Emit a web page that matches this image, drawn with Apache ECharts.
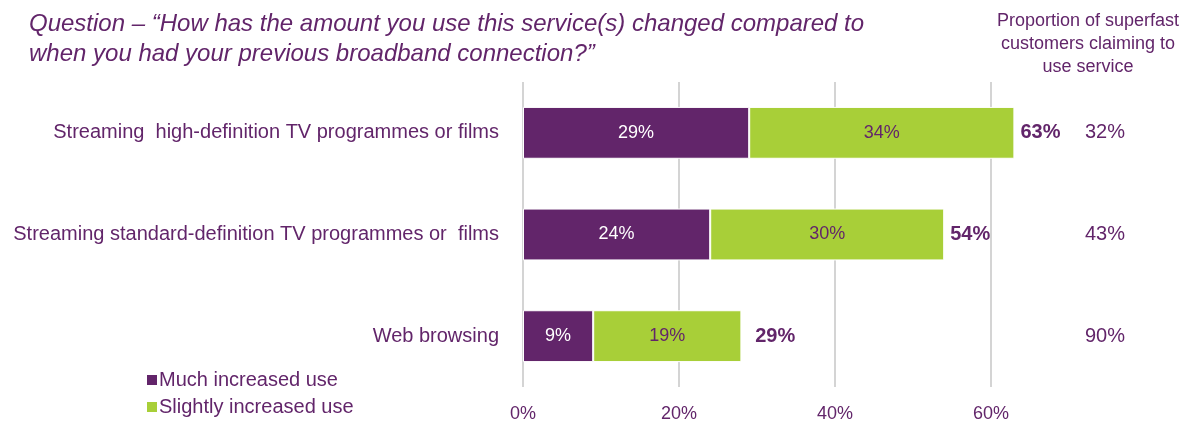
<!DOCTYPE html>
<html>
<head>
<meta charset="utf-8">
<script src="https://cdn.jsdelivr.net/npm/echarts@6/dist/echarts.min.js"></script>
<style>
  html, body { margin: 0; padding: 0; background: #fff; }
  #chart { width: 1190px; height: 423px; }
</style>
</head>
<body>
<div id="chart"></div>
<script>
// Survey services, top to bottom
const services = [
  'Streaming  high-definition TV programmes or films',
  'Streaming standard-definition TV programmes or  films',
  'Web browsing'
];
const muchIncreased = [29, 24, 9];
const slightlyIncreased = [34, 30, 19];
const totalIncreased = [63, 54, 29];
const claimingToUse = ['32%', '43%', '90%'];
const xTicks = [0, 20, 40, 60];

const PURPLE = '#62256a';
const GREEN = '#a8cf38';
const FONT = '"Liberation Sans", Arial, sans-serif';

const chart = echarts.init(document.getElementById('chart'));

chart.setOption({
  backgroundColor: '#fff',
  animation: false,
  textStyle: { fontFamily: FONT },
  title: {
    text: 'Question \u2013 \u201cHow has the amount you use this service(s) changed compared to\nwhen you had your previous broadband connection?\u201d',
    left: 24,
    top: 4,
    textStyle: {
      fontFamily: FONT,
      fontStyle: 'italic',
      fontWeight: 'normal',
      fontSize: 24,
      lineHeight: 30,
      color: PURPLE
    }
  },
  graphic: [{
    type: 'text',
    x: 1088,
    y: 10,
    style: {
      text: 'Proportion of superfast\ncustomers claiming to\nuse service',
      align: 'center',
      fontFamily: FONT,
      fontSize: 18,
      lineHeight: 23,
      fill: PURPLE
    }
  }],
  legend: {
    orient: 'vertical',
    left: 140,
    top: 365,
    itemWidth: 12,
    itemHeight: 12,
    itemGap: 7,
    icon: 'rect',
    textStyle: { fontFamily: FONT, fontSize: 20, color: PURPLE, padding: [0, 0, 0, -4] },
    data: ['Much increased use', 'Slightly increased use']
  },
  grid: { left: 523, right: 199, top: 82, bottom: 36, containLabel: false },
  xAxis: {
    type: 'value',
    min: xTicks[0],
    max: xTicks[xTicks.length - 1],
    interval: xTicks[1] - xTicks[0],
    axisLine: { show: false },
    axisTick: { show: false },
    splitLine: { show: true, lineStyle: { color: '#d4d4d4', width: 2 } },
    axisLabel: {
      margin: 18,
      fontFamily: FONT,
      fontSize: 18,
      color: PURPLE,
      formatter: v => v + '%'
    }
  },
  yAxis: [{
    type: 'category',
    inverse: true,
    data: services,
    axisLine: { show: false },
    axisTick: { show: false },
    axisLabel: { margin: 24, fontFamily: FONT, fontSize: 20, color: PURPLE }
  }, {
    type: 'category',
    inverse: true,
    position: 'right',
    data: claimingToUse,
    axisLine: { show: false },
    axisTick: { show: false },
    axisLabel: { margin: 94, align: 'left', fontFamily: FONT, fontSize: 20, color: PURPLE }
  }],
  series: [{
    name: 'Much increased use',
    type: 'bar',
    stack: 'use',
    barWidth: '51%',
    clip: false,
    data: muchIncreased,
    itemStyle: { color: PURPLE, borderColor: '#fff', borderWidth: 1 },
    label: {
      show: true,
      position: 'inside',
      fontFamily: FONT,
      fontSize: 18,
      color: '#fff',
      formatter: p => p.value + '%'
    }
  }, {
    name: 'Slightly increased use',
    type: 'bar',
    stack: 'use',
    clip: false,
    data: slightlyIncreased,
    itemStyle: { color: GREEN, borderColor: '#fff', borderWidth: 1 },
    label: {
      show: true,
      position: 'inside',
      fontFamily: FONT,
      fontSize: 18,
      color: PURPLE,
      formatter: p => p.value + '%'
    }
  }, {
    // Bold total at the end of each stacked bar
    name: 'Total',
    type: 'scatter',
    symbolSize: 0,
    clip: false,
    silent: true,
    itemStyle: { opacity: 1, color: PURPLE },
    data: totalIncreased.map((v, i) => [v, services[i]]),
    label: {
      show: true,
      position: 'right',
      distance: 6,
      fontFamily: FONT,
      fontSize: 20,
      fontWeight: 'bold',
      color: PURPLE,
      opacity: 1,
      formatter: p => p.value[0] + '%'
    }
  }]
});
</script>
</body>
</html>
